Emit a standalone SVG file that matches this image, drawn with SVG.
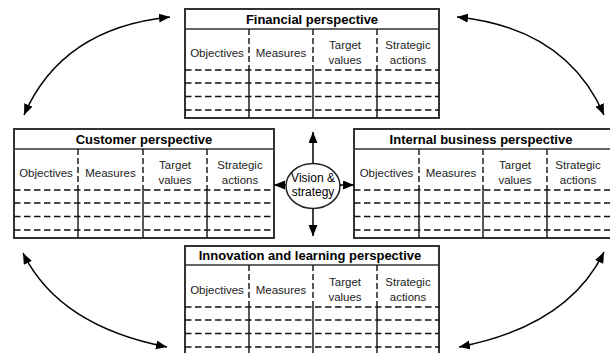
<svg xmlns="http://www.w3.org/2000/svg" width="610" height="353" viewBox="0 0 610 353">
<style>
.frame{fill:#fff;stroke:#333;stroke-width:2}
.sep{stroke:#333;stroke-width:1.6}
.dh{stroke:#111;stroke-width:1.6;stroke-dasharray:6.5 3.5}
.dv{stroke:#111;stroke-width:1.4;stroke-dasharray:6 3}
.sv{stroke:#111;stroke-width:1.4}
.title{font-family:"Liberation Sans",Arial,sans-serif;font-size:13px;font-weight:bold;fill:#000;text-anchor:middle}
.hd{font-family:"Liberation Sans",Arial,sans-serif;font-size:11.5px;fill:#222;text-anchor:middle}
.vs{font-family:"Liberation Sans",Arial,sans-serif;font-size:12px;fill:#000;text-anchor:middle}
.conn{fill:none;stroke:#000;stroke-width:1.5}
</style>
<defs>
<marker id="ah" markerUnits="userSpaceOnUse" markerWidth="12" markerHeight="10" refX="11" refY="4.5" orient="auto-start-reverse">
<path d="M0,0 L11,4.5 L0,9 z" fill="#000"/>
</marker>
</defs>
<rect width="610" height="353" fill="#fff"/>

<g id="financial">
<rect class="frame" x="185" y="9" width="254" height="109"/>
<line class="sep" x1="185" y1="29" x2="439" y2="29"/>
<text class="title" x="312" y="24">Financial perspective</text>
<line class="dv" x1="249" y1="29" x2="249" y2="70"/><line class="dv" x1="313" y1="29" x2="313" y2="70"/><line class="dv" x1="377" y1="29" x2="377" y2="70"/>
<line class="sv" x1="249" y1="70" x2="249" y2="118"/><line class="sv" x1="313" y1="70" x2="313" y2="118"/><line class="sv" x1="377" y1="70" x2="377" y2="118"/>
<line class="dh" x1="185" y1="70" x2="439" y2="70"/><line class="dh" x1="185" y1="83" x2="439" y2="83"/><line class="dh" x1="185" y1="96.5" x2="439" y2="96.5"/><line class="dh" x1="185" y1="110" x2="439" y2="110"/>
<text class="hd" x="217" y="57">Objectives</text>
<text class="hd" x="281" y="57">Measures</text>
<text class="hd" x="345" y="49">Target</text><text class="hd" x="345" y="64">values</text>
<text class="hd" x="408" y="49">Strategic</text><text class="hd" x="408" y="64">actions</text>
</g>

<g id="customer">
<rect class="frame" x="14" y="129" width="260" height="109"/>
<line class="sep" x1="14" y1="149" x2="274" y2="149"/>
<text class="title" x="144" y="144">Customer perspective</text>
<line class="dv" x1="78" y1="149" x2="78" y2="190"/><line class="dv" x1="143" y1="149" x2="143" y2="190"/><line class="dv" x1="207" y1="149" x2="207" y2="190"/>
<line class="sv" x1="78" y1="190" x2="78" y2="238"/><line class="sv" x1="143" y1="190" x2="143" y2="238"/><line class="sv" x1="207" y1="190" x2="207" y2="238"/>
<line class="dh" x1="14" y1="190" x2="274" y2="190"/><line class="dh" x1="14" y1="203" x2="274" y2="203"/><line class="dh" x1="14" y1="216.5" x2="274" y2="216.5"/><line class="dh" x1="14" y1="230" x2="274" y2="230"/>
<text class="hd" x="46" y="177">Objectives</text>
<text class="hd" x="110.5" y="177">Measures</text>
<text class="hd" x="175" y="169">Target</text><text class="hd" x="175" y="184">values</text>
<text class="hd" x="240" y="169">Strategic</text><text class="hd" x="240" y="184">actions</text>
</g>

<g id="internal">
<rect class="frame" x="354" y="129" width="258" height="109"/>
<line class="sep" x1="354" y1="149" x2="612" y2="149"/>
<text class="title" x="481" y="144">Internal business perspective</text>
<line class="dv" x1="419" y1="149" x2="419" y2="190"/><line class="dv" x1="483" y1="149" x2="483" y2="190"/><line class="dv" x1="547" y1="149" x2="547" y2="190"/>
<line class="sv" x1="419" y1="190" x2="419" y2="238"/><line class="sv" x1="483" y1="190" x2="483" y2="238"/><line class="sv" x1="547" y1="190" x2="547" y2="238"/>
<line class="dh" x1="354" y1="190" x2="612" y2="190"/><line class="dh" x1="354" y1="203" x2="612" y2="203"/><line class="dh" x1="354" y1="216.5" x2="612" y2="216.5"/><line class="dh" x1="354" y1="230" x2="612" y2="230"/>
<text class="hd" x="386.5" y="177">Objectives</text>
<text class="hd" x="451" y="177">Measures</text>
<text class="hd" x="515" y="169">Target</text><text class="hd" x="515" y="184">values</text>
<text class="hd" x="578" y="169">Strategic</text><text class="hd" x="578" y="184">actions</text>
</g>

<g id="innovation">
<rect class="frame" x="185" y="246" width="254" height="112"/>
<line class="sep" x1="185" y1="265" x2="439" y2="265"/>
<text class="title" x="310" y="260">Innovation and learning perspective</text>
<line class="dv" x1="249" y1="265" x2="249" y2="307"/><line class="dv" x1="313" y1="265" x2="313" y2="307"/><line class="dv" x1="377" y1="265" x2="377" y2="307"/>
<line class="sv" x1="249" y1="307" x2="249" y2="358"/><line class="sv" x1="313" y1="307" x2="313" y2="358"/><line class="sv" x1="377" y1="307" x2="377" y2="358"/>
<line class="dh" x1="185" y1="307" x2="439" y2="307"/><line class="dh" x1="185" y1="320" x2="439" y2="320"/><line class="dh" x1="185" y1="333.5" x2="439" y2="333.5"/><line class="dh" x1="185" y1="347" x2="439" y2="347"/>
<text class="hd" x="217" y="294">Objectives</text>
<text class="hd" x="281" y="294">Measures</text>
<text class="hd" x="345" y="286">Target</text><text class="hd" x="345" y="301">values</text>
<text class="hd" x="408" y="286">Strategic</text><text class="hd" x="408" y="301">actions</text>
</g>

<g id="vision">
<ellipse cx="313" cy="186" rx="27" ry="22.5" fill="#fff" stroke="#222" stroke-width="1.5"/>
<text class="vs" x="313" y="182">Vision &amp;</text>
<text class="vs" x="313" y="196">strategy</text>
</g>

<g id="connectors">
<line class="conn" x1="313" y1="163" x2="313" y2="132" marker-end="url(#ah)"/>
<line class="conn" x1="313" y1="208.5" x2="313" y2="236" marker-end="url(#ah)"/>
<line class="conn" x1="286" y1="185" x2="274" y2="185" marker-end="url(#ah)"/>
<line class="conn" x1="340" y1="185" x2="354" y2="185" marker-end="url(#ah)"/>
<path class="conn" d="M24,115 Q62,28 170,17" marker-start="url(#ah)" marker-end="url(#ah)"/>
<path class="conn" d="M457,17 Q566,28 604,115" marker-start="url(#ah)" marker-end="url(#ah)"/>
<path class="conn" d="M23,253 Q59,326 167,347" marker-start="url(#ah)" marker-end="url(#ah)"/>
<path class="conn" d="M604,252 Q568,326 459,347" marker-start="url(#ah)" marker-end="url(#ah)"/>
</g>
</svg>
